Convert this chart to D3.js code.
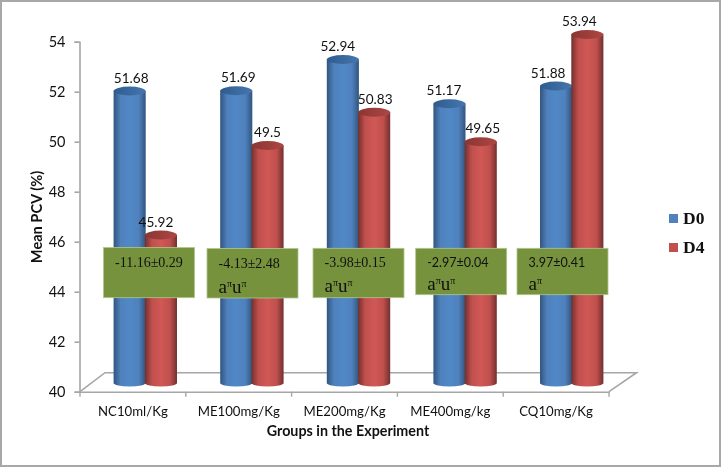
<!DOCTYPE html>
<html>
<head>
<meta charset="utf-8">
<script src="https://cdn.jsdelivr.net/npm/d3@7"></script>
<style>
  html, body { margin: 0; padding: 0; background: #fff; }
  svg { display: block; filter: blur(0.35px); }
  text { font-family: Lato, "Open Sans", sans-serif; fill: #111; }
  .serif { font-family: "Liberation Serif", serif; }
</style>
</head>
<body>
<div id="chart"></div>
<script>
/* global d3 */

// Chart data
const groups = ['NC10ml/Kg', 'ME100mg/Kg', 'ME200mg/Kg', 'ME400mg/kg', 'CQ10mg/Kg']
const seriesNames = ['D0', 'D4']
const d0Values = [51.68, 51.69, 52.94, 51.17, 51.88]
const d4Values = [45.92, 49.5, 50.83, 49.65, 53.94]
const yTicks = [40, 42, 44, 46, 48, 50, 52, 54]
const changeLabels = ['-11.16±0.29', '-4.13±2.48', '-3.98±0.15', '-2.97±0.04', '3.97±0.41']
const changeMarks = ['', 'aπuπ', 'aπuπ', 'aπuπ', 'aπ']

// Our canvas
const width = 721,
  height = 467

const svg = d3.select('#chart')
  .append('svg')
  .attr('width', width)
  .attr('height', height)

// Outer frame
svg.append('rect')
  .attr('x', 1).attr('y', 1)
  .attr('width', width - 2).attr('height', height - 2)
  .attr('fill', '#fff')
  .attr('stroke', '#a8a8a8')
  .attr('stroke-width', 2)

// Scales: the axis sits in front, the bars stand further back on the floor
const yScale = d3.scaleLinear().domain([40, 54]).range([391.7, 41.7])
const barY = d3.scaleLinear().domain([40, 54]).range([383, 33])
const xScale = d3.scaleBand().domain(groups).range([80, 609])
const barX = d3.scaleBand().domain(groups).range([114, 647])
const innerX = d3.scaleBand().domain(seriesNames).range([0, 62.6])
const color = d3.scaleOrdinal().domain(seriesNames).range(['#4f81bd', '#c0504d'])

// Gradients for the cylinders
const defs = svg.append('defs')
const shades = {
  D0: { edge: '#30557f', mid: '#5088c6', top: ['#2f5c8f', '#4576ad'] },
  D4: { edge: '#73302e', mid: '#d05855', top: ['#8a3634', '#ad4643'] }
}
seriesNames.forEach((s) => {
  const body = defs.append('linearGradient').attr('id', 'body' + s)
  body.append('stop').attr('offset', '0%').attr('stop-color', shades[s].edge)
  body.append('stop').attr('offset', '22%').attr('stop-color', color(s))
  body.append('stop').attr('offset', '50%').attr('stop-color', shades[s].mid)
  body.append('stop').attr('offset', '78%').attr('stop-color', color(s))
  body.append('stop').attr('offset', '100%').attr('stop-color', shades[s].edge)
  const top = defs.append('linearGradient').attr('id', 'top' + s)
  top.append('stop').attr('offset', '0%').attr('stop-color', shades[s].top[0])
  top.append('stop').attr('offset', '100%').attr('stop-color', shades[s].top[1])
})

// Floor of the 3D plot
const floor = d3.path()
floor.moveTo(xScale.range()[0], yScale(40))
floor.lineTo(105, 372.7)
floor.lineTo(636.5, 372.7)
floor.lineTo(xScale.range()[1], yScale(40))
svg.append('path')
  .attr('d', floor.toString())
  .attr('fill', 'none')
  .attr('stroke', '#a6a6a6')
  .attr('stroke-width', 1.6)

// Axes
const yAxis = d3.axisLeft(yScale).tickValues(yTicks).tickSize(5).tickPadding(9)
const gy = svg.append('g')
  .attr('transform', 'translate(79.5, 0)')
  .call(yAxis)
gy.selectAll('text').style('font-size', '14.5px')

const xAxis = d3.axisBottom(xScale).tickSize(0).tickPadding(15)
const gx = svg.append('g')
  .attr('transform', `translate(0, ${yScale(40)})`)
  .call(xAxis)
gx.selectAll('text').style('font-size', '13.2px')
gx.selectAll('.tickEdge')
  .data(groups.concat(['end']))
  .enter()
  .append('line')
  .attr('x1', (d) => d === 'end' ? xScale.range()[1] : xScale(d))
  .attr('x2', (d) => d === 'end' ? xScale.range()[1] : xScale(d))
  .attr('y1', 0)
  .attr('y2', 5)
  .attr('stroke', '#a6a6a6')
  .attr('stroke-width', 1.4)
svg.selectAll('.domain, .tick line').attr('stroke', '#a6a6a6').attr('stroke-width', 1.6)

// Cylinders, D0 first so that D4 overlaps it
const rx = innerX.bandwidth() / 2 + 0.4
const bars = []
groups.forEach((g, i) => {
  bars.push({ group: g, series: 'D0', value: d0Values[i] })
  bars.push({ group: g, series: 'D4', value: d4Values[i] })
})
const cylinder = svg.selectAll('.bar')
  .data(bars)
  .enter()
  .append('g')
  .attr('class', 'bar')
  .attr('transform', (d) => `translate(${barX(d.group) + innerX(d.series) + innerX.bandwidth() / 2}, 0)`)

cylinder.append('path')
  .attr('d', (d) => `M${-rx},${barY(d.value)} L${-rx},${barY(40)} A${rx},3.4 0 0 0 ${rx},${barY(40)} L${rx},${barY(d.value)} Z`)
  .attr('fill', (d) => `url(#body${d.series})`)

cylinder.append('ellipse')
  .attr('cy', (d) => barY(d.value))
  .attr('rx', rx)
  .attr('ry', 4.4)
  .attr('fill', (d) => `url(#top${d.series})`)

// Value labels (some sit off the bar centre in the original)
const labelShift = [1.5, -5, 2, 0, -5, 1, -5.5, 2, -8, -8]
svg.selectAll('.value')
  .data(bars)
  .enter()
  .append('text')
  .attr('class', 'value')
  .attr('x', (d, i) => barX(d.group) + innerX(d.series) + innerX.bandwidth() / 2 + labelShift[i])
  .attr('y', (d) => barY(d.value) - 8.5)
  .attr('text-anchor', 'middle')
  .style('font-size', '13.6px')
  .text((d) => d.value)

// Green annotation boxes
const boxLeft = [103.5, 207, 313, 415.7, 517]
const boxTop = [247.5, 248.5, 248.3, 248.3, 248.3]
const boxBottom = [297.7, 298, 297.7, 294.7, 294.7]
const boxSerif = [true, true, true, false, false]
const box = svg.selectAll('.change')
  .data(groups)
  .enter()
  .append('g')
  .attr('class', 'change')
  .attr('transform', (d, i) => `translate(${boxLeft[i]}, ${boxTop[i]})`)

box.append('rect')
  .attr('width', 91)
  .attr('height', (d, i) => boxBottom[i] - boxTop[i])
  .attr('fill', '#76923c')
  .attr('stroke', '#b4c690')
  .attr('stroke-width', 0.8)

box.append('text')
  .attr('class', (d, i) => boxSerif[i] ? 'serif' : null)
  .attr('x', 11.5)
  .attr('y', 19)
  .style('font-size', (d, i) => boxSerif[i] ? '14px' : '12.5px')
  .text((d, i) => changeLabels[i])

const marks = box.append('text')
  .attr('class', 'serif')
  .attr('x', 11.5)
  .attr('y', (d, i) => boxSerif[i] ? 38 : 36)
  .style('font-size', '19px')
marks.each(function (d, i) {
  const el = d3.select(this)
  changeMarks[i].split('').forEach((ch) => {
    if (ch === 'π') {
      el.append('tspan').attr('dy', -6).style('font-size', '10px').text(ch)
    } else {
      el.append('tspan').attr('dy', el.selectAll('tspan').size() ? 6 : 0).text(ch)
    }
  })
})

// Axis titles
svg.append('text')
  .attr('transform', 'translate(42, 217) rotate(-90)')
  .attr('text-anchor', 'middle')
  .style('font-size', '14.6px')
  .style('font-weight', 'bold')
  .text('Mean PCV (%)')

svg.append('text')
  .attr('x', 348)
  .attr('y', 436)
  .attr('text-anchor', 'middle')
  .style('font-size', '14.3px')
  .style('font-weight', 'bold')
  .text('Groups in the Experiment')

// Legend
const legendY = d3.scalePoint().domain(seriesNames).range([218.5, 247.5])
const legend = svg.selectAll('.legend')
  .data(seriesNames)
  .enter()
  .append('g')
  .attr('class', 'legend')
  .attr('transform', (d) => `translate(669, ${legendY(d)})`)
legend.append('rect')
  .attr('y', -4.5)
  .attr('width', 9)
  .attr('height', 9)
  .attr('fill', (d) => color(d))
legend.append('text')
  .attr('class', 'serif')
  .attr('x', 14)
  .attr('y', 5.7)
  .style('font-size', '17.5px')
  .style('font-weight', 'bold')
  .text((d) => d)
</script>
</body>
</html>
